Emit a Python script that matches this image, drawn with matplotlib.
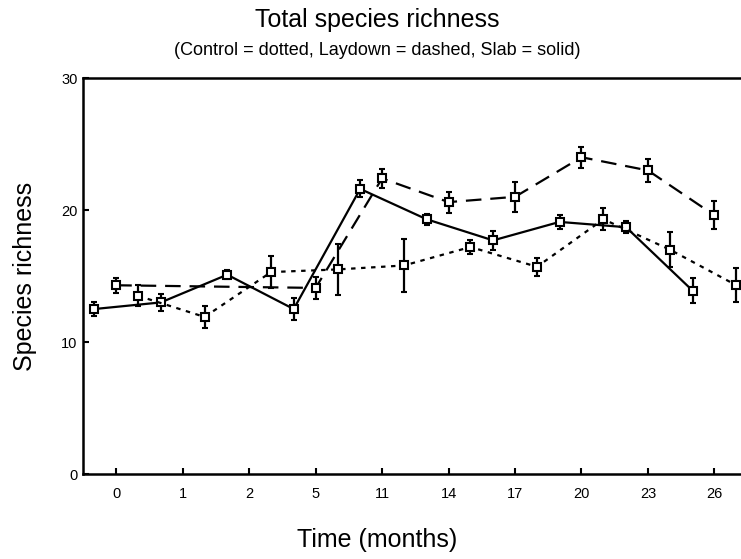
import numpy as np
import matplotlib.pyplot as plt

plt.rcParams['font.family'] = ['Liberation Sans', 'DejaVu Sans']

months = ['0', '1', '2', '5', '11', '14', '17', '20', '23', '26']

# Slab (solid)
slab = [12.5, 13.0, 15.1, 12.5, 21.6, 19.3, 17.7, 19.1, 18.7, 13.9]
slab_err = [0.5, 0.65, 0.35, 0.8, 0.65, 0.4, 0.7, 0.55, 0.45, 0.95]

# Laydown (dashed), no data at months 1 and 2
laydown = [14.3, np.nan, np.nan, 14.1, 22.4, 20.6, 21.0, 24.0, 23.0, 19.6]
laydown_err = [0.55, 0, 0, 0.85, 0.7, 0.8, 1.15, 0.8, 0.9, 1.05]

# Control (dotted)
control = [13.5, 11.9, 15.3, 15.5, 15.8, 17.2, 15.7, 19.3, 17.0, 14.3]
control_err = [0.8, 0.8, 1.2, 1.95, 2.0, 0.55, 0.7, 0.85, 1.35, 1.3]

fig = plt.figure(figsize=(7.41, 5.59), dpi=100)
ax = fig.add_axes([0.112, 0.152, 0.897, 0.7084])

x = np.arange(len(months))
off = 0.33

def draw(xs, ys, es, ls):
    ys = np.array(ys, dtype=float)
    m = ~np.isnan(ys)
    ax.errorbar(xs[m], ys[m], yerr=np.array(es)[m], color='black', ls=ls,
                lw=1.6, marker='s', ms=5.5, mfc='white', mec='black', mew=1.5,
                ecolor='black', elinewidth=1.6, capsize=2.5, capthick=1.6)

draw(x - off, slab, slab_err, '-')
draw(x, laydown, laydown_err, (0, (7, 4)))
draw(x + off, control, control_err, (0, (2, 2.5)))

ax.set_xlim(-0.5, 9.5)
ax.set_ylim(0, 30)
ax.set_xticks(x)
ax.set_xticklabels(months)
ax.set_yticks([0, 10, 20, 30])
ax.tick_params(direction='in', length=4, width=1.5, labelsize=10.5, pad=9)
ax.tick_params(axis='y', pad=4)
for s in ax.spines.values():
    s.set_linewidth(1.8)

# labels placed in figure coords (the original is cropped on the right)
fig.text(0.509, 0.9517, 'Total species richness', ha='center', va='baseline',
         fontsize=18)
fig.text(0.509, 0.9016, '(Control = dotted, Laydown = dashed, Slab = solid)',
         ha='center', va='baseline', fontsize=13)
fig.text(0.509, 0.0215, 'Time (months)', ha='center', va='baseline',
         fontsize=18)
fig.text(0.034, 0.506, 'Species richness', ha='center', va='center',
         rotation=90, fontsize=18)

fig.savefig('out.png', dpi=100)
